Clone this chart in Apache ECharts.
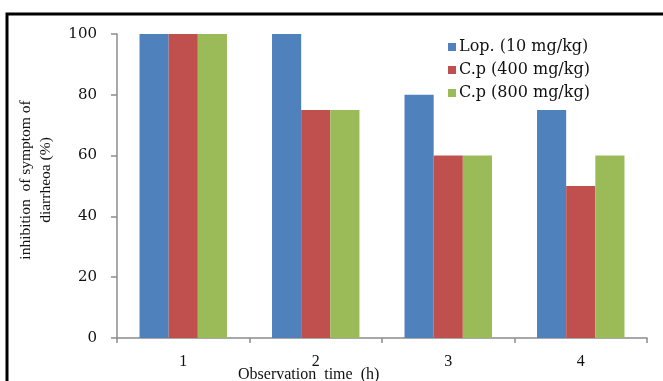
<!DOCTYPE html>
<html>
<head>
<meta charset="utf-8">
<script src="https://cdn.jsdelivr.net/npm/echarts@6/dist/echarts.min.js"></script>
<style>
html,body{margin:0;padding:0;background:#fff;}
#c{width:663px;height:381px;}
</style>
</head>
<body>
<div id="c"></div>
<script>
const categories = ['1', '2', '3', '4'];
const seriesNames = ['Lop. (10 mg/kg)', 'C.p (400 mg/kg)', 'C.p (800 mg/kg)'];
const lopValues = [100, 100, 80, 75];
const cp400Values = [100, 75, 60, 50];
const cp800Values = [100, 75, 60, 60];
const yTicks = { min: 0, max: 100, interval: 20 };
const colors = ['#4F81BD', '#C0504D', '#9BBB59'];

const chart = echarts.init(document.getElementById('c'), null, { renderer: 'canvas' });
const axisColor = '#8c8c8c';
const values = [lopValues, cp400Values, cp800Values];

chart.setOption({
  animation: false,
  backgroundColor: '#fff',
  grid: { left: 117, right: 16, top: 34, bottom: 43, containLabel: false },
  legend: {
    orient: 'vertical',
    left: 443,
    top: 34,
    itemWidth: 8,
    itemHeight: 8,
    itemGap: 7,
    icon: 'rect',
    textStyle: { fontFamily: 'DejaVu Serif', fontSize: 16, color: '#111', padding: [0, 0, 0, -2] },
    data: seriesNames
  },
  xAxis: {
    type: 'category',
    data: categories,
    axisLine: { show: true, lineStyle: { color: axisColor, width: 1.5 } },
    axisTick: { show: true, length: 5, lineStyle: { color: axisColor, width: 1.5 } },
    axisLabel: { margin: 16, fontFamily: 'Liberation Serif', fontSize: 16, color: '#111' },
    splitLine: { show: false }
  },
  yAxis: {
    type: 'value',
    min: yTicks.min,
    max: yTicks.max,
    interval: yTicks.interval,
    axisLine: { show: true, lineStyle: { color: axisColor, width: 1.5 } },
    axisTick: { show: true, length: 6, lineStyle: { color: axisColor, width: 1.5 } },
    axisLabel: { margin: 20, fontFamily: 'DejaVu Serif', fontSize: 15, color: '#111' },
    splitLine: { show: false }
  },
  series: seriesNames.map((name, i) => ({
    name: name,
    type: 'bar',
    data: values[i],
    barGap: '0%',
    barCategoryGap: '34%',
    itemStyle: { color: colors[i] }
  })),
  graphic: [
    {
      type: 'rect',
      shape: { x: 7, y: 14, width: 720, height: 420 },
      style: { fill: 'none', stroke: '#000', lineWidth: 3 },
      silent: true
    },
    {
      type: 'text',
      x: 36,
      y: 180,
      rotation: Math.PI / 2,
      style: {
        text: 'inhibition  of symptom of\ndiarrheoa (%)',
        fontFamily: 'Liberation Serif',
        fontSize: 15.5,
        lineHeight: 20,
        fill: '#111',
        align: 'center',
        verticalAlign: 'middle'
      }
    },
    {
      type: 'text',
      x: 238,
      y: 375,
      style: {
        text: 'Observation  time  (h)',
        fontFamily: 'Liberation Serif',
        fontSize: 16,
        fill: '#111',
        align: 'left',
        verticalAlign: 'middle'
      }
    }
  ]
});
</script>
</body>
</html>
